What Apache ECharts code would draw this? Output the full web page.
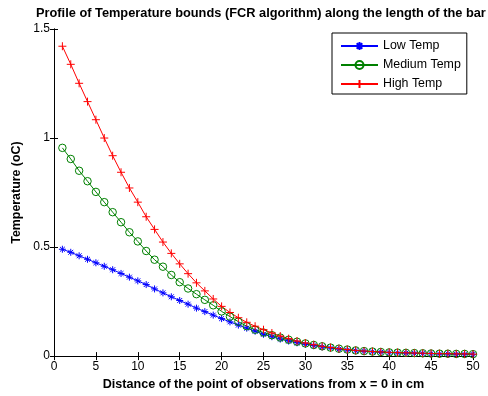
<!DOCTYPE html>
<html>
<head>
<meta charset="utf-8">
<script src="https://cdn.jsdelivr.net/npm/echarts@6/dist/echarts.min.js"></script>
<style>
html, body { margin: 0; padding: 0; background: #fff; }
#chart { width: 488px; height: 396px; }
</style>
</head>
<body>
<div id="chart"></div>
<script>
'use strict';

// distance from x = 0 (cm)
var distance = [1, 2, 3, 4, 5, 6, 7, 8, 9, 10,
    11, 12, 13, 14, 15, 16, 17, 18, 19, 20,
    21, 22, 23, 24, 25, 26, 27, 28, 29, 30,
    31, 32, 33, 34, 35, 36, 37, 38, 39, 40,
    41, 42, 43, 44, 45, 46, 47, 48, 49, 50];

var low_temp = [0.490, 0.476, 0.460, 0.444, 0.428, 0.412, 0.396, 0.379, 0.362, 0.345,
    0.328, 0.308, 0.290, 0.272, 0.255, 0.238, 0.220, 0.204, 0.188, 0.172,
    0.157, 0.142, 0.128, 0.114, 0.100, 0.089, 0.078, 0.069, 0.061, 0.054,
    0.048, 0.042, 0.037, 0.032, 0.028, 0.025, 0.022, 0.020, 0.018, 0.016,
    0.015, 0.014, 0.013, 0.012, 0.011, 0.010, 0.010, 0.009, 0.009, 0.008];

var medium_temp = [0.955, 0.904, 0.850, 0.802, 0.753, 0.706, 0.660, 0.614, 0.568, 0.526,
    0.482, 0.442, 0.410, 0.372, 0.339, 0.310, 0.284, 0.258, 0.233, 0.205,
    0.181, 0.158, 0.137, 0.121, 0.108, 0.096, 0.085, 0.075, 0.066, 0.058,
    0.051, 0.045, 0.039, 0.034, 0.030, 0.026, 0.023, 0.021, 0.019, 0.017,
    0.016, 0.015, 0.014, 0.013, 0.012, 0.011, 0.011, 0.010, 0.010, 0.009];

var high_temp = [1.421, 1.338, 1.251, 1.167, 1.084, 1.000, 0.919, 0.843, 0.771, 0.706,
    0.639, 0.581, 0.523, 0.471, 0.423, 0.378, 0.336, 0.299, 0.262, 0.228,
    0.200, 0.176, 0.155, 0.137, 0.121, 0.106, 0.092, 0.080, 0.069, 0.060,
    0.052, 0.045, 0.039, 0.034, 0.030, 0.026, 0.023, 0.021, 0.019, 0.017,
    0.016, 0.015, 0.014, 0.013, 0.012, 0.011, 0.011, 0.010, 0.010, 0.009];

var x_ticks = [0, 50, 5];
var y_ticks = [0, 1.5, 0.5];

var font = '"Liberation Sans", Arial, sans-serif';

function toPairs(xs, ys) {
    var out = [];
    for (var i = 0; i < xs.length; i++) {
        out.push([xs[i], ys[i]]);
    }
    return out;
}

function makeSeries(name, color, symbol, size, values) {
    return {
        name: name,
        type: 'line',
        xAxisIndex: 0,
        yAxisIndex: 0,
        symbol: symbol,
        symbolSize: size,
        showAllSymbol: true,
        animation: false,
        lineStyle: { color: color, width: 1 },
        itemStyle: { color: 'rgba(0,0,0,0)', borderColor: color, borderWidth: 1 },
        emphasis: { disabled: true },
        data: toPairs(distance, values)
    };
}

var axisCommon = {
    axisLine: { lineStyle: { color: '#000', width: 1 } },
    axisTick: { inside: true, length: 4, lineStyle: { color: '#000' } },
    splitLine: { show: false }
};

function xAxisOf(pos, showLabel) {
    return Object.assign({
        type: 'value',
        position: pos,
        min: x_ticks[0],
        max: x_ticks[1],
        interval: x_ticks[2],
        axisLabel: { show: showLabel, color: '#000', fontSize: 12, fontFamily: font, margin: 5 }
    }, axisCommon);
}

function yAxisOf(pos, showLabel) {
    return Object.assign({
        type: 'value',
        position: pos,
        min: y_ticks[0],
        max: y_ticks[1],
        interval: y_ticks[2],
        axisLabel: { show: showLabel, color: '#000', fontSize: 12, fontFamily: font, margin: 4 }
    }, axisCommon);
}

var x_bottom = xAxisOf('bottom', true);
x_bottom.name = 'Distance of the point of observations from x = 0 in cm';
x_bottom.nameLocation = 'middle';
x_bottom.nameGap = 21;
x_bottom.nameTextStyle = { color: '#000', fontSize: 12.6, fontWeight: 'bold', fontFamily: font };

var y_left = yAxisOf('left', true);
y_left.name = 'Temperature (oC)';
y_left.nameLocation = 'middle';
y_left.nameGap = 27;
y_left.nameTextStyle = { color: '#000', fontSize: 12.4, fontWeight: 'bold', fontFamily: font };

var my_chart = echarts.init(document.getElementById('chart'), null, { renderer: 'canvas' });

my_chart.setOption({
    backgroundColor: '#fff',
    animation: false,
    title: {
        text: 'Profile of Temperature bounds (FCR algorithm) along the length of the bar',
        left: 36,
        top: 7,
        padding: 0,
        textStyle: { color: '#000', fontSize: 12.8, fontWeight: 'bold', fontFamily: font }
    },
    grid: {
        left: 54,
        right: 15,
        top: 29,
        bottom: 39,
        containLabel: false
    },
    legend: {
        orient: 'vertical',
        left: 332,
        top: 33,
        padding: [7, 6, 4, 8],
        itemGap: 7,
        itemWidth: 37,
        itemHeight: 10,
        backgroundColor: '#fff',
        borderColor: '#000',
        borderWidth: 1,
        borderRadius: 0,
        selectedMode: false,
        textStyle: { color: '#000', fontSize: 12.4, fontFamily: font },
        data: ['Low Temp', 'Medium Temp', 'High Temp']
    },
    xAxis: [x_bottom, xAxisOf('top', false)],
    yAxis: [y_left, yAxisOf('right', false)],
    series: [
        makeSeries('Low Temp', '#0000ff',
            'path://M5,0L5,10M0,5L10,5M1.5,1.5L8.5,8.5M8.5,1.5L1.5,8.5', 7, low_temp),
        makeSeries('Medium Temp', '#008000', 'circle', 7.5, medium_temp),
        makeSeries('High Temp', '#ff0000', 'path://M5,0L5,10M0,5L10,5', 8, high_temp)
    ]
});
</script>
</body>
</html>
